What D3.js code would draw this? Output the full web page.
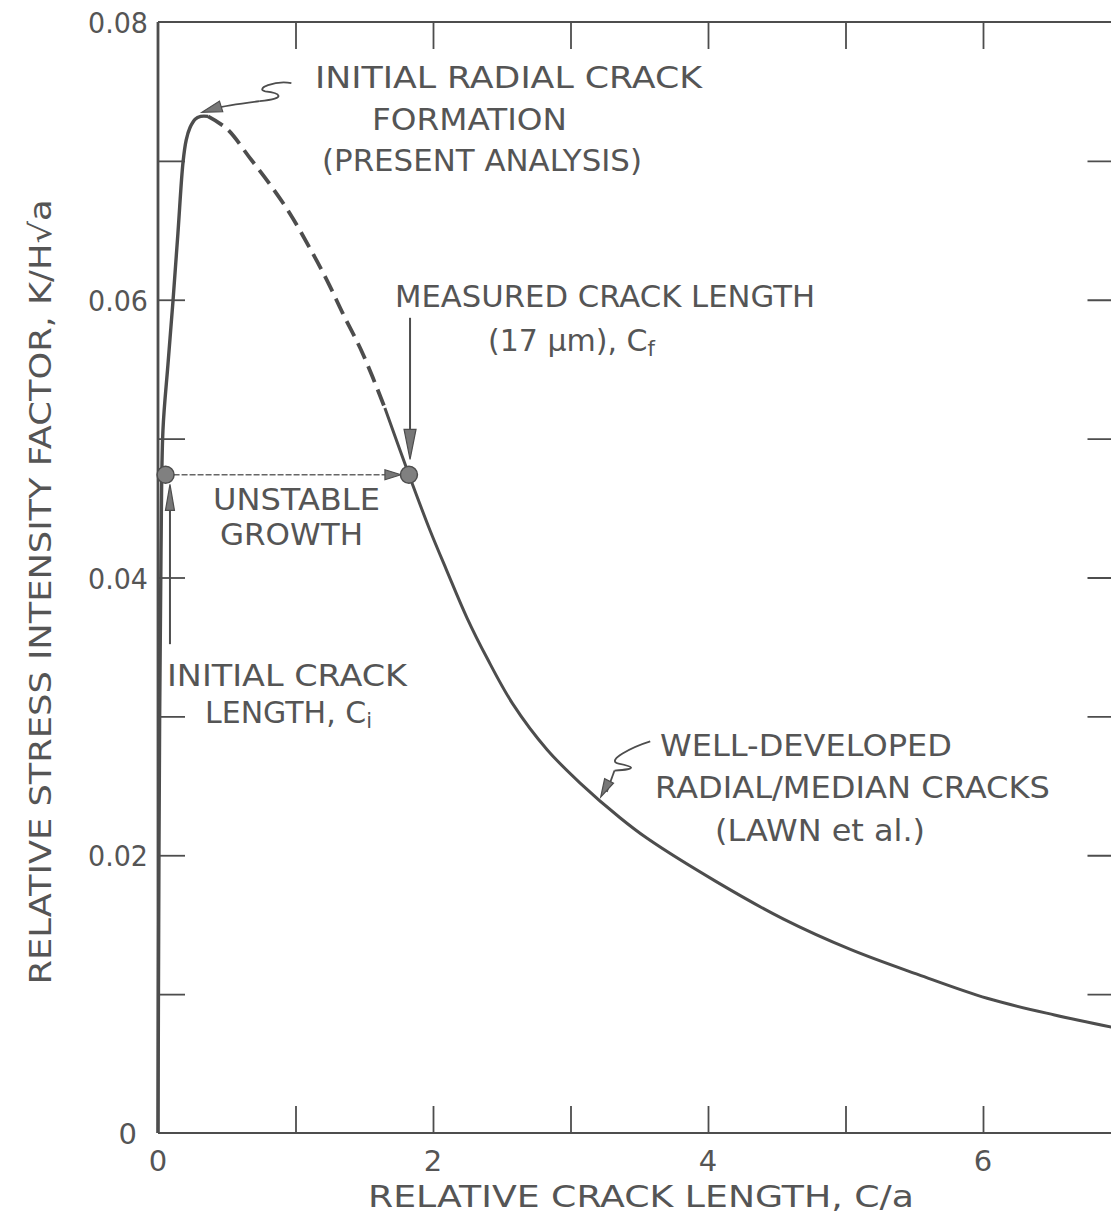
<!DOCTYPE html>
<html><head><meta charset="utf-8">
<script src="https://cdn.jsdelivr.net/npm/d3@7"></script>
<style>
html,body{margin:0;padding:0;background:#fff;}
svg{display:block;}
text{font-family:"DejaVu Sans","Liberation Sans",sans-serif;fill:#555;}
</style></head>
<body><svg id="c" width="1111" height="1226"></svg>
<script>
// ---- data ----
const xTickValues = [0,1,2,3,4,5,6,7];
const xTickLabels = [0,2,4,6];
const yTickValues = [0,0.01,0.02,0.03,0.04,0.05,0.06,0.07,0.08];
const yTickLabels = [0,0.02,0.04,0.06,0.08];

// rising branch (present analysis)
const riseX = [0,0.005,0.012,0.022,0.036,0.072,0.109,0.145,0.182,0.205,0.233,0.27,0.31,0.364];
const riseY = [0,0.015,0.030,0.042,0.0506,0.0553,0.0599,0.0648,0.0699,0.0715,0.0724,0.0730,0.0732,0.0732];
// dashed transition
const dashX = [0.364,0.502,0.669,0.815,0.96,1.105,1.229,1.345,1.49,1.65];
const dashY = [0.0732,0.0723,0.0702,0.0683,0.0662,0.0637,0.0614,0.0590,0.0561,0.0522];
// well-developed cracks (Lawn et al.)
const tailX = [1.65,1.825,1.978,2.10,2.247,2.393,2.58,2.83,3.07,3.36,3.56,4.06,4.55,5.04,5.53,6.03,6.52,7.0];
const tailY = [0.0522,0.0474,0.0434,0.0405,0.0371,0.0342,0.0309,0.0276,0.0252,0.0227,0.0212,0.0181,0.0154,0.0132,0.0114,0.0097,0.0085,0.0075];
// marked points: initial crack length ci, measured crack length cf
const pointX = [0.055,1.825];
const pointY = [0.0474,0.0474];

// ---- layout ----
const svg = d3.select("#c");
const x = d3.scaleLinear().domain([0,7]).range([158,1120.5]);
const y = d3.scaleLinear().domain([0,0.08]).range([1133,22]);
const ink = "#4d4d4d";

// frame
const frame = svg.append("g");
frame.append("line").attr("x1",x(0)).attr("x2",x(0)).attr("y1",y(0)).attr("y2",y(0.08)).attr("stroke",ink).attr("stroke-width",2.8);
frame.append("line").attr("x1",x(0)).attr("x2",x(7)).attr("y1",y(0.08)).attr("y2",y(0.08)).attr("stroke",ink).attr("stroke-width",2);
frame.append("line").attr("x1",x(0)).attr("x2",x(7)).attr("y1",y(0)).attr("y2",y(0)).attr("stroke",ink).attr("stroke-width",2);
frame.append("line").attr("x1",x(7)).attr("x2",x(7)).attr("y1",y(0)).attr("y2",y(0.08)).attr("stroke",ink).attr("stroke-width",2);

// axes with inward ticks
const TL = 27;
const axB = d3.axisBottom(x).tickValues(xTickValues).tickSize(-TL).tickFormat("");
const axT = d3.axisTop(x).tickValues(xTickValues).tickSize(-TL).tickFormat("");
const axL = d3.axisLeft(y).tickValues(yTickValues).tickSize(-TL).tickFormat("");
const axR = d3.axisRight(y).tickValues(yTickValues).tickSize(-33).tickFormat("");
function styleAxis(sel){ sel.select(".domain").remove(); sel.selectAll(".tick line").attr("stroke",ink).attr("stroke-width",1.8); }
svg.append("g").attr("transform",`translate(0,${y(0)})`).call(axB).call(styleAxis);
svg.append("g").attr("transform",`translate(0,${y(0.08)})`).call(axT).call(styleAxis);
svg.append("g").attr("transform",`translate(${x(0)},0)`).call(axL).call(styleAxis);
svg.append("g").attr("transform",`translate(${x(7)},0)`).call(axR).call(styleAxis);
svg.selectAll(".tick").filter(d=>d===0||d===7||d===0.08).remove();

// tick labels
svg.append("g").selectAll("text").data(xTickLabels).join("text")
  .attr("x",d=>x(d)).attr("y",1161).attr("text-anchor","middle").attr("dominant-baseline","central")
  .attr("font-size",29).text(d=>d);
svg.append("g").selectAll("text").data(yTickLabels).join("text")
  .attr("x",d=>d===0?137:148).attr("y",d=>y(d)+1).attr("text-anchor","end").attr("dominant-baseline","central")
  .attr("font-size",29).attr("textLength",d=>d===0?null:60).attr("lengthAdjust","spacingAndGlyphs")
  .text(d=>d===0?"0":d.toFixed(2));

// axis titles
svg.append("text").attr("x",641).attr("y",1196).attr("text-anchor","middle").attr("dominant-baseline","central")
  .attr("font-size",30).attr("textLength",546).attr("lengthAdjust","spacingAndGlyphs")
  .text("RELATIVE  CRACK LENGTH, C/a");
svg.append("text").attr("transform","translate(40,592) rotate(-90)").attr("text-anchor","middle").attr("dominant-baseline","central")
  .attr("font-size",30).attr("textLength",785).attr("lengthAdjust","spacingAndGlyphs")
  .text("RELATIVE  STRESS  INTENSITY  FACTOR,  K/H√a");

// curves
const line = d3.line().x(d=>x(d[0])).y(d=>y(d[1])).curve(d3.curveCatmullRom.alpha(0.5));
const rise = riseX.map((v,i)=>[v,riseY[i]]);
const dash = dashX.map((v,i)=>[v,dashY[i]]);
const tail = tailX.map((v,i)=>[v,tailY[i]]);
svg.append("path").attr("d",line(rise)).attr("fill","none").attr("stroke",ink).attr("stroke-width",3.4);
svg.append("path").attr("d",line(dash)).attr("fill","none").attr("stroke",ink).attr("stroke-width",3.8)
  .attr("stroke-dasharray","17,8");
svg.append("path").attr("d",line(tail)).attr("fill","none").attr("stroke",ink).attr("stroke-width",3);

// arrow helper (filled head)
function head(tx,ty,ang,len,wid){
  const bx = tx - len*Math.cos(ang), by = ty - len*Math.sin(ang);
  const nx = -Math.sin(ang)*wid/2, ny = Math.cos(ang)*wid/2;
  svg.append("path").attr("d",`M${tx},${ty}L${bx+nx},${by+ny}L${bx-nx},${by-ny}Z`)
    .attr("fill","#777").attr("stroke",ink).attr("stroke-width",1.2);
}

// unstable growth arrow (horizontal)
const ax0 = x(pointX[0]), ax1 = x(pointX[1]) - 8, ay = y(pointY[0]);
svg.append("line").attr("x1",ax0).attr("x2",ax1-10).attr("y1",ay).attr("y2",ay)
  .attr("stroke","#666").attr("stroke-width",1.5).attr("stroke-dasharray","6,2");
head(ax1,ay,0,16,10);

// initial crack length arrow (vertical, pointing up)
const icx = x(0.087);
svg.append("line").attr("x1",icx).attr("x2",icx).attr("y1",y(0.0352)).attr("y2",y(0.0455))
  .attr("stroke",ink).attr("stroke-width",2);
head(icx,y(0.0467),-Math.PI/2,26,9);

// measured crack length arrow (vertical, pointing down)
const mcx = x(1.833);
svg.append("line").attr("x1",mcx).attr("x2",mcx).attr("y1",y(0.0587)).attr("y2",y(0.050))
  .attr("stroke",ink).attr("stroke-width",2);
head(mcx,y(0.0485),Math.PI/2,30,12);

// squiggle + curved arrow to peak
{
  const p = (a,b)=>[x(a),y(b)];
  const s0=p(0.97,0.0756), s3=p(0.74,0.0743);
  svg.append("path").attr("d",`M${s0}C${x(0.85)},${y(0.0758)} ${x(0.70)},${y(0.0752)} ${x(0.78)},${y(0.0750)}`
      +`C${x(0.88)},${y(0.0749)} ${x(0.95)},${y(0.0745)} ${s3}`)
    .attr("fill","none").attr("stroke",ink).attr("stroke-width",1.8);
  const tip = p(0.32,0.0735);
  svg.append("path").attr("d",`M${s3}Q${x(0.50)},${y(0.0740)} ${x(0.40)},${y(0.07375)}`)
    .attr("fill","none").attr("stroke",ink).attr("stroke-width",1.8);
  head(tip[0],tip[1],Math.atan2(tip[1]-y(0.0739),tip[0]-x(0.45)),20,11);
}
// squiggle + arrow to well-developed branch
{
  const q0=[x(3.58),y(0.0282)], q3=[x(3.32),y(0.0261)];
  svg.append("path").attr("d",`M${q0}C${x(3.45)},${y(0.0278)} ${x(3.25)},${y(0.0268)} ${x(3.35)},${y(0.0266)}`
      +`C${x(3.45)},${y(0.0264)} ${x(3.50)},${y(0.0262)} ${q3}`)
    .attr("fill","none").attr("stroke",ink).attr("stroke-width",1.8);
  const tip=[x(3.22),y(0.0242)];
  svg.append("path").attr("d",`M${q3}L${tip[0]+6},${tip[1]-5}`).attr("fill","none").attr("stroke",ink).attr("stroke-width",1.8);
  head(tip[0],tip[1],Math.atan2(tip[1]-q3[1],tip[0]-q3[0]),18,10);
}

// points
svg.append("g").selectAll("circle").data(pointX.map((v,i)=>[v,pointY[i]])).join("circle")
  .attr("cx",d=>x(d[0])).attr("cy",d=>y(d[1])).attr("r",8.5)
  .attr("fill","#808080").attr("stroke",ink).attr("stroke-width",1.5);

// annotation texts
const notes = [
  {t:"INITIAL RADIAL CRACK", x:315, y:77, w:387},
  {t:"FORMATION", x:372, y:119, w:195},
  {t:"(PRESENT ANALYSIS)", x:322, y:160, w:320},
  {t:"MEASURED  CRACK LENGTH", x:395, y:296, w:420},
  {t:"UNSTABLE", x:213, y:499, w:167},
  {t:"GROWTH", x:220, y:534, w:143},
  {t:"INITIAL CRACK", x:167, y:675, w:240},
  {t:"WELL-DEVELOPED", x:660, y:745, w:292},
  {t:"RADIAL/MEDIAN  CRACKS", x:655, y:787, w:395},
  {t:"(LAWN  et al.)", x:715, y:830, w:210}
];
svg.append("g").selectAll("text").data(notes).join("text")
  .attr("x",d=>d.x).attr("y",d=>d.y).attr("dominant-baseline","central")
  .attr("font-size",30).attr("textLength",d=>d.w).attr("lengthAdjust","spacingAndGlyphs").text(d=>d.t);

// texts with subscripts
const t1 = svg.append("text").attr("x",488).attr("y",340).attr("dominant-baseline","central").attr("font-size",30);
t1.append("tspan").text("(17 μm),  C");
t1.append("tspan").attr("font-size",21).attr("dy",9).text("f");
const t2 = svg.append("text").attr("x",205).attr("y",712).attr("dominant-baseline","central").attr("font-size",30);
t2.append("tspan").text("LENGTH, C");
t2.append("tspan").attr("font-size",21).attr("dy",9).text("i");
</script></body></html>
